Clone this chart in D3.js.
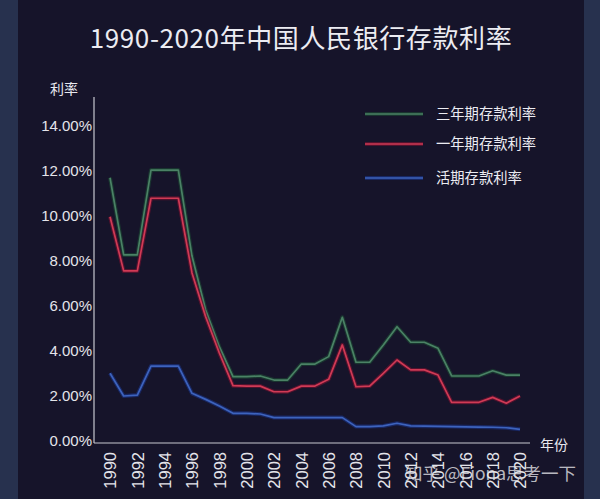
<!DOCTYPE html>
<html><head><meta charset="utf-8">
<script src="https://cdn.jsdelivr.net/npm/d3@7/dist/d3.min.js"></script>
<style>html,body{margin:0;padding:0;background:#16142a;}svg{display:block;}</style>
</head><body>
<svg id="c" width="600" height="499"></svg>
<script>
const years = d3.range(1990, 2021);
const xTickLabels = ["1990","1992","1994","1996","1998","2000","2002","2004","2006","2008","2010","2012","2014","2016","2018","2020"];
const yTickLabels = ["0.00%","2.00%","4.00%","6.00%","8.00%","10.00%","12.00%","14.00%"];
const yTickValues = [0,2,4,6,8,10,12,14];
const seriesNames = ["三年期存款利率","一年期存款利率","活期存款利率"];
const threeYear = [11.70,8.27,8.27,12.04,12.04,12.04,8.22,5.82,4.19,2.86,2.86,2.89,2.71,2.71,3.42,3.42,3.75,5.50,3.50,3.50,4.27,5.08,4.39,4.39,4.12,2.89,2.89,2.89,3.12,2.93,2.93];
const oneYear = [9.97,7.56,7.56,10.79,10.79,10.79,7.47,5.52,3.91,2.46,2.44,2.44,2.19,2.19,2.44,2.44,2.74,4.27,2.41,2.44,3.01,3.60,3.16,3.16,2.93,1.72,1.72,1.72,1.94,1.68,2.00];
const demand = [3.01,2.00,2.04,3.33,3.33,3.33,2.12,1.85,1.56,1.23,1.23,1.20,1.04,1.04,1.04,1.04,1.04,1.04,0.64,0.64,0.67,0.79,0.67,0.66,0.65,0.64,0.63,0.62,0.61,0.59,0.52];
const colors = ["#4a8265","#d03a55","#3d63bd"];
const glows = ["#1c4a34","#7a1030","#1a3488"];

const svg = d3.select("#c");
svg.append("rect").attr("x",0).attr("y",0).attr("width",600).attr("height",499).attr("fill","#27314e");
svg.append("rect").attr("x",18).attr("y",0).attr("width",566).attr("height",499).attr("fill","#16142a");

const font = "Liberation Sans, Arial, sans-serif";
const cjk = "Noto Sans CJK SC, sans-serif";

svg.append("text").attr("x",301).attr("y",48).attr("text-anchor","middle")
  .attr("font-family",cjk).attr("font-size",26).attr("fill","#ececf2").attr("letter-spacing",0.6)
  .text("1990-2020年中国人民银行存款利率");

const x = d3.scaleLinear().domain([1990,2020]).range([110,520]);
const y = d3.scaleLinear().domain([0,14]).range([441,126]);

const yAxis = d3.axisLeft(y).tickValues(yTickValues).tickSize(0).tickPadding(2)
  .tickFormat((d,i)=>yTickLabels[i]);
const gy = svg.append("g").attr("transform","translate(94,0)").call(yAxis);
gy.select(".domain").remove();
gy.selectAll("text").attr("font-family",font).attr("font-size",15).attr("fill","#e4e4ea");
svg.append("line").attr("x1",94).attr("x2",94).attr("y1",97).attr("y2",443).attr("stroke","#c8c8d0").attr("stroke-width",1.2);

const xAxis = d3.axisBottom(x).tickValues(xTickLabels.map(Number)).tickSize(0).tickFormat(d=>String(d));
const gx = svg.append("g").attr("transform","translate(0,443)").call(xAxis);
gx.select(".domain").remove();
gx.selectAll("text").attr("font-family",font).attr("font-size",16.5).attr("fill","#e4e4ea")
  .attr("text-anchor","end").attr("dy","0.35em")
  .attr("transform","translate(0,9) rotate(-90)").attr("x",0).attr("y",0);
svg.append("line").attr("x1",94).attr("x2",530).attr("y1",443).attr("y2",443).attr("stroke","#c8c8d0").attr("stroke-width",1.2);

svg.append("text").attr("x",50).attr("y",94).attr("font-family",cjk).attr("font-size",14).attr("fill","#e8e8ee").text("利率");
svg.append("text").attr("x",540).attr("y",450).attr("font-family",cjk).attr("font-size",14).attr("fill","#e8e8ee").text("年份");

const line = d3.line().x((d,i)=>x(years[i])).y(d=>y(d));
[threeYear, oneYear, demand].forEach((s,k)=>{
  svg.append("path").datum(s).attr("d",line).attr("fill","none")
    .attr("stroke",glows[k]).attr("stroke-width",4).attr("stroke-opacity",0.6).attr("stroke-linejoin","round");
  svg.append("path").datum(s).attr("d",line).attr("fill","none")
    .attr("stroke",colors[k]).attr("stroke-width",1.7).attr("stroke-linejoin","round");
});

const ly = [114,144,178];
seriesNames.forEach((n,k)=>{
  svg.append("line").attr("x1",365).attr("x2",423).attr("y1",ly[k]).attr("y2",ly[k])
    .attr("stroke",glows[k]).attr("stroke-width",4).attr("stroke-opacity",0.6);
  svg.append("line").attr("x1",365).attr("x2",423).attr("y1",ly[k]).attr("y2",ly[k])
    .attr("stroke",colors[k]).attr("stroke-width",1.7);
  svg.append("text").attr("x",436).attr("y",ly[k]+5).attr("font-family",cjk).attr("font-size",14.3)
    .attr("fill","#ececf2").text(n);
});

svg.append("text").attr("x",405).attr("y",480).attr("font-family",cjk).attr("font-size",17.5)
  .attr("fill","#e6e6ea").attr("fill-opacity",0.8).text("知乎 @Fiona思考一下");
</script>
</body></html>
